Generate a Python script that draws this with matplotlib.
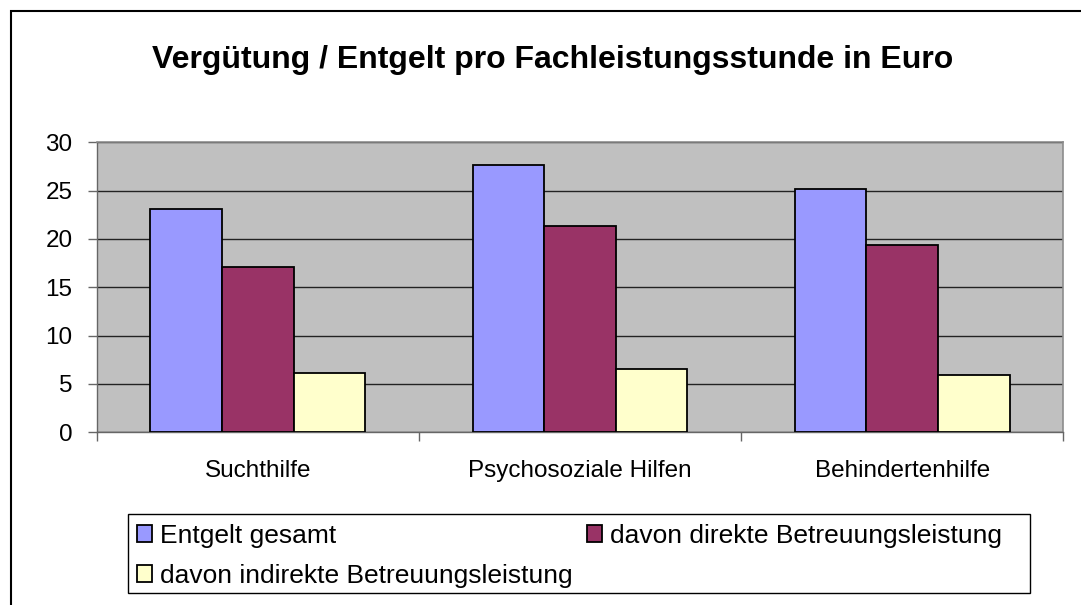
import numpy as np
import matplotlib
matplotlib.use("Agg")
from matplotlib import pyplot as plt
from matplotlib.patches import Rectangle

plt.rcParams['font.family'] = ['Liberation Sans', 'DejaVu Sans']

# daten
kategorien = ["Suchthilfe", "Psychosoziale Hilfen", "Behindertenhilfe"]
entgelt_gesamt = [23.1, 27.7, 25.2]
direkte_leistung = [17.1, 21.3, 19.4]
indirekte_leistung = [6.1, 6.5, 5.9]
serien_namen = ["Entgelt gesamt", "davon direkte Betreuungsleistung",
                "davon indirekte Betreuungsleistung"]
farben = ["#9999FF", "#993366", "#FFFFCC"]
y_ticks = [0, 5, 10, 15, 20, 25, 30]

W, H = 1081, 605
fig = plt.figure(figsize=(W / 100, H / 100), dpi=100)
ax = fig.add_axes([96.7 / W, 1 - 432.3 / H, (1063.3 - 96.7) / W, (432.3 - 142.3) / H])
ax.set_facecolor("#C0C0C0")

x = np.arange(len(kategorien))
breite = 2 / 9
handles = []
for i, werte in enumerate([entgelt_gesamt, direkte_leistung, indirekte_leistung]):
    b = ax.bar(x + (i - 1) * breite, werte, breite, color=farben[i],
               edgecolor="black", linewidth=1.3, zorder=3, label=serien_namen[i])
    handles.append(b)

ax.set_ylim(0, 30)
ax.set_xlim(-0.5, 2.5)
ax.set_yticks(y_ticks)
ax.yaxis.grid(True, color="#222222", linewidth=1, zorder=1)
ax.tick_params(axis="y", direction="out", length=6.5, width=1, color="#666666",
               labelsize=17.5, pad=11)

# tick striche zwischen den kategorien, labels in der mitte
ax.set_xticks([-0.5, 0.5, 1.5, 2.5])
ax.set_xticklabels([])
ax.tick_params(axis="x", which="major", direction="out", length=6.5, width=1, color="#666666")
ax.set_xticks(x, minor=True)
ax.set_xticklabels(kategorien, minor=True)
ax.tick_params(axis="x", which="minor", length=0, labelsize=17.5, pad=20)

for s in ["top", "right"]:
    ax.spines[s].set_color("#8C8C8C")
    ax.spines[s].set_linewidth(1.2)
for s in ["left", "bottom"]:
    ax.spines[s].set_color("#666666")
    ax.spines[s].set_linewidth(1)

fig.text(553 / W, 1 - 60 / H, "Vergütung / Entgelt pro Fachleistungsstunde in Euro",
         ha="center", va="center", fontsize=23, fontweight="bold")

# legende zeilenweise: reihenfolge fuer ncol=2 umstellen
reihenfolge = [0, 2, 1]
leg = fig.legend(handles=[handles[i] for i in reihenfolge],
                 labels=[serien_namen[i] for i in reihenfolge], ncol=2, frameon=False,
                 loc="upper left", bbox_to_anchor=(136.7 / W, 1 - 524 / H),
                 borderpad=0, borderaxespad=0, fontsize=19,
                 handlelength=0.58, handleheight=0.58, handletextpad=0.3,
                 columnspacing=0.55, labelspacing=0.6)
for h in leg.legend_handles:
    h.set_edgecolor("black")
    h.set_linewidth(1.3)
fig.patches.append(Rectangle((128.3 / W, 1 - 593.3 / H), (1030 - 128.3) / W, (593.3 - 514.3) / H,
                             transform=fig.transFigure, fill=False, edgecolor="black", linewidth=1))

# aussenrahmen
fig.patches.append(Rectangle((10.5 / W, -0.05), 1.1, (H - 10.5) / H + 0.05,
                             transform=fig.transFigure, fill=False, edgecolor="black", linewidth=1.5))

fig.savefig("out.png", dpi=100)
